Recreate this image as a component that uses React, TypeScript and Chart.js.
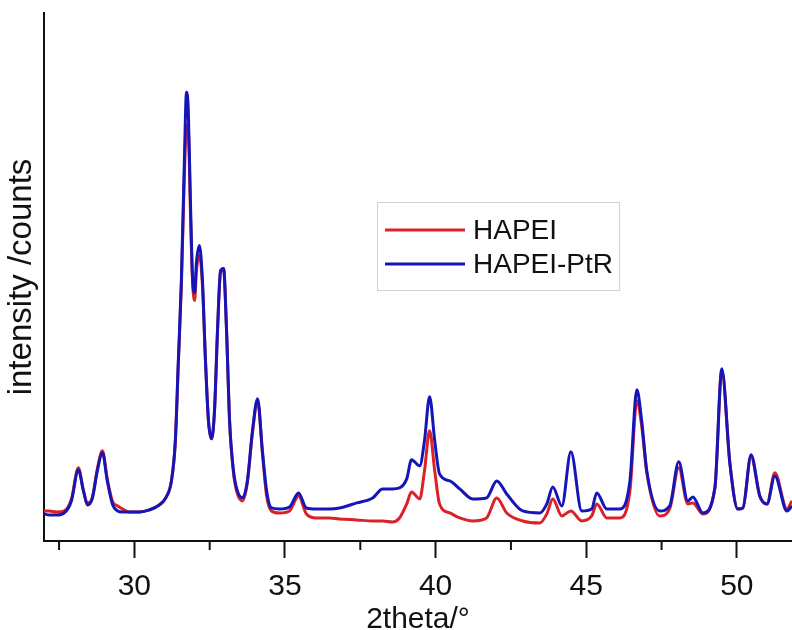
import { useEffect, useRef } from "react";
import { Chart, registerables } from "chart.js";

Chart.register(...registerables);

const twoTheta = [
  27.0, 27.18, 27.41, 27.67, 27.91, 28.14, 28.31, 28.44, 28.6, 28.77,
  28.94, 29.1, 29.27, 29.44, 29.6, 29.83, 30.17, 30.5, 30.83, 31.06,
  31.23, 31.36, 31.46, 31.56, 31.66, 31.73, 31.79, 31.86, 31.93, 32.0,
  32.06, 32.16, 32.26, 32.36, 32.46, 32.56, 32.66, 32.76, 32.86, 32.96,
  33.06, 33.16, 33.29, 33.42, 33.59, 33.75, 33.92, 34.09, 34.25, 34.39,
  34.55, 34.82, 35.15, 35.45, 35.71, 36.05, 36.48, 36.81, 37.38, 37.91,
  38.24, 38.57, 38.8, 39.04, 39.2, 39.47, 39.63, 39.8, 39.97, 40.13,
  40.47, 40.8, 41.23, 41.69, 42.03, 42.36, 42.89, 43.46, 43.69, 43.89,
  44.19, 44.49, 44.85, 45.18, 45.35, 45.68, 46.11, 46.45, 46.68, 46.84,
  47.01, 47.44, 47.77, 48.07, 48.37, 48.54, 48.87, 49.27, 49.5, 49.77,
  50.03, 50.2, 50.47, 50.76, 51.0, 51.26, 51.66, 51.83,
];

const hapei = [
  300, 300, 290, 300, 420, 730, 500, 380, 430, 720,
  900, 620, 400, 350, 320, 290, 290, 310, 360, 440,
  600, 1000, 1780, 2550, 3650, 4150, 4100, 3300, 2600, 2400,
  2700, 2850, 2550, 1800, 1200, 1020, 1300, 2100, 2680, 2720,
  2100, 1200, 680, 470, 400, 580, 1080, 1400, 880, 450,
  300, 280, 300, 450, 270, 230, 230, 220, 210, 200,
  200, 190, 230, 370, 490, 420, 700, 1100, 700, 370,
  280, 230, 200, 230, 430, 280, 200, 180, 270, 420,
  250, 300, 200, 250, 370, 230, 230, 500, 1400, 1150,
  680, 250, 320, 730, 370, 380, 270, 530, 1700, 770,
  320, 330, 840, 450, 370, 680, 320, 400,
];

const hapeiPtR = [
  270, 260, 260, 280, 400, 710, 500, 360, 420, 700,
  880, 600, 370, 300, 290, 290, 290, 310, 360, 440,
  600, 1000, 1800, 2600, 3800, 4480, 4300, 3400, 2630, 2480,
  2780, 2950, 2600, 1800, 1200, 1020, 1300, 2100, 2700, 2720,
  2100, 1200, 700, 500, 430, 600, 1100, 1420, 900, 500,
  330, 320, 340, 480, 330, 320, 320, 330, 380, 430,
  520, 520, 530, 620, 810, 750, 1000, 1440, 1000, 670,
  600, 520, 420, 430, 600, 470, 300, 280, 370, 540,
  350, 890, 300, 320, 480, 320, 320, 600, 1510, 1200,
  700, 300, 350, 790, 400, 440, 280, 530, 1720, 770,
  320, 330, 860, 450, 370, 650, 300, 350,
];

const seriesLabels = ["HAPEI", "HAPEI-PtR"];
const xMajorTicks = [30, 35, 40, 45, 50];
const xMinorTicks = [27.5, 32.5, 37.5, 42.5, 47.5];

const FONT = "'Liberation Sans', Arial, Helvetica, sans-serif";
const INK = "#111111";

const minorTicksPlugin = {
  id: "minorTicks",
  afterDraw(chart: any) {
    const xs = chart.scales.x;
    const ctx = chart.ctx;
    const bottom = chart.chartArea.bottom;
    ctx.save();
    ctx.strokeStyle = INK;
    ctx.lineWidth = 2;
    xMinorTicks.forEach((v) => {
      if (v < xs.min || v > xs.max) return;
      const px = xs.getPixelForValue(v);
      ctx.beginPath();
      ctx.moveTo(px, bottom);
      ctx.lineTo(px, bottom + 9);
      ctx.stroke();
    });
    ctx.restore();
  },
};

const boxLegendPlugin = {
  id: "boxLegend",
  afterDatasetsDraw(chart: any, _args: any, opts: any) {
    const ctx = chart.ctx;
    const { left, top, width, height, firstRow, rowGap } = opts;
    ctx.save();
    ctx.fillStyle = "#ffffff";
    ctx.fillRect(left, top, width, height);
    ctx.strokeStyle = "#d2d2d2";
    ctx.lineWidth = 1;
    ctx.strokeRect(left + 0.5, top + 0.5, width, height);
    chart.data.datasets.forEach((ds: any, i: number) => {
      const y = top + firstRow + i * rowGap;
      ctx.strokeStyle = ds.borderColor;
      ctx.lineWidth = 3;
      ctx.beginPath();
      ctx.moveTo(left + 8, y);
      ctx.lineTo(left + 88, y);
      ctx.stroke();
      ctx.fillStyle = INK;
      ctx.font = `28px ${FONT}`;
      ctx.textBaseline = "middle";
      ctx.textAlign = "left";
      ctx.fillText(ds.label, left + 96, y + 1);
    });
    ctx.restore();
  },
};

export default function App() {
  const canvasRef = useRef<HTMLCanvasElement | null>(null);

  useEffect(() => {
    if (!canvasRef.current) return;
    const chart = new Chart(canvasRef.current, {
      type: "line",
      data: {
        datasets: [
          {
            label: seriesLabels[0],
            data: twoTheta.map((x, i) => ({ x, y: hapei[i] })),
            borderColor: "#dc2227",
            borderWidth: 3,
            pointRadius: 0,
            cubicInterpolationMode: "monotone",
            order: 1,
          },
          {
            label: seriesLabels[1],
            data: twoTheta.map((x, i) => ({ x, y: hapeiPtR[i] })),
            borderColor: "#1616b8",
            borderWidth: 3,
            pointRadius: 0,
            cubicInterpolationMode: "monotone",
            order: 0,
          },
        ],
      },
      options: {
        animation: false,
        responsive: false,
        events: [],
        layout: { padding: { top: 13, left: 0, right: 0, bottom: 0 } },
        plugins: {
          legend: { display: false },
          tooltip: { enabled: false },
          boxLegend: {
            left: 377,
            top: 202,
            width: 242,
            height: 88,
            firstRow: 28,
            rowGap: 34,
          },
        } as any,
        scales: {
          x: {
            type: "linear",
            min: 27,
            max: 51.83,
            afterBuildTicks: (scale: any) => {
              scale.ticks = xMajorTicks
                .filter((v) => v >= scale.min && v <= scale.max)
                .map((v) => ({ value: v }));
            },
            ticks: {
              includeBounds: false,
              autoSkip: false,
              maxRotation: 0,
              padding: 11,
              color: INK,
              font: { family: FONT, size: 30 },
              callback: (v: any) => String(v),
            },
            grid: {
              display: true,
              drawOnChartArea: false,
              drawTicks: true,
              tickLength: 17,
              tickWidth: 2,
              tickColor: INK,
              color: INK,
            },
            border: { display: true, color: INK, width: 2 },
            title: {
              display: true,
              text: "2theta/°",
              color: INK,
              font: { family: FONT, size: 30 },
              padding: { top: -14, bottom: 4 },
            },
          },
          y: {
            type: "linear",
            min: 0,
            max: 5270,
            ticks: { display: false },
            grid: { display: false, drawTicks: false },
            border: { display: true, color: INK, width: 2 },
            title: {
              display: true,
              text: "intensity /counts",
              color: INK,
              font: { family: FONT, size: 33 },
              padding: { top: 2.5, bottom: 1.9 },
            },
          },
        },
      } as any,
      plugins: [minorTicksPlugin, boxLegendPlugin],
    });
    return () => chart.destroy();
  }, []);

  return (
    <div
      style={{
        position: "fixed",
        left: 0,
        top: 0,
        width: 792,
        height: 630,
        overflow: "hidden",
        background: "#ffffff",
      }}
    >
      <canvas ref={canvasRef} width={792} height={642} style={{ display: "block" }} />
    </div>
  );
}
